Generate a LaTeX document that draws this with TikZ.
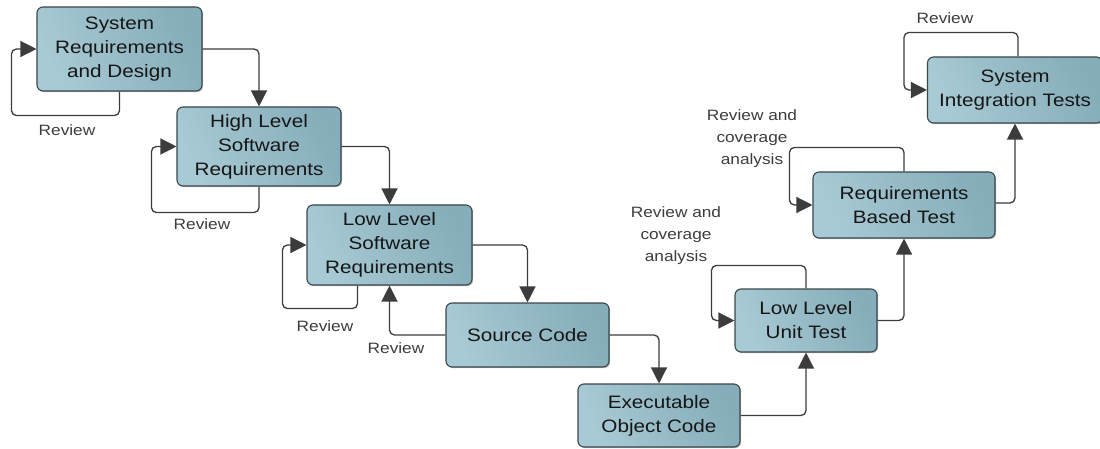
\documentclass[tikz,border=0pt]{standalone}
\usepackage{fontspec}
\setmainfont{Liberation Sans}[FakeStretch=1.15]
\usetikzlibrary{arrows.meta,calc,shadows}
\definecolor{boxlight}{HTML}{A8CAD4}
\definecolor{boxdark}{HTML}{85ADBA}
\definecolor{boxline}{HTML}{3A474B}
\definecolor{linecol}{HTML}{3C3C3C}
\definecolor{txt}{HTML}{161616}
\tikzset{
  stagebox/.style={draw=boxline, line width=1.1pt, rounded corners=6pt,
    left color=boxlight, right color=boxdark, shading angle=115,
    drop shadow={shadow xshift=1.2pt, shadow yshift=-1.2pt, opacity=0.25, fill=black},
    align=center, text=txt, inner sep=0pt,
    font=\fontsize{18}{24}\selectfont},
  conn/.style={draw=linecol, line width=1.3pt, rounded corners=5pt,
    -{Triangle[length=16pt,width=16pt]}},
  lbl/.style={align=center, text=linecol, inner sep=0pt,
    font=\fontsize{15}{22}\selectfont}
}
\begin{document}
\begin{tikzpicture}[x=1pt,y=-1pt]
\useasboundingbox (0,0) rectangle (1100,449);
% boxes
\node[stagebox, minimum width=165pt, minimum height=84pt] (srd) at (119.5,49) {System\\Requirements\\and Design};
\node[stagebox, minimum width=164pt, minimum height=79pt] (hlsr) at (259,146.5) {High Level\\Software\\Requirements};
\node[stagebox, minimum width=165pt, minimum height=80pt] (llsr) at (389.5,245) {Low Level\\Software\\Requirements};
\node[stagebox, minimum width=163pt, minimum height=64pt] (sc) at (527.5,335) {Source Code};
\node[stagebox, minimum width=162pt, minimum height=63pt] (eoc) at (659,415.5) {Executable\\Object Code};
\node[stagebox, minimum width=142pt, minimum height=63pt] (llut) at (806,320.5) {Low Level\\Unit Test};
\node[stagebox, minimum width=182pt, minimum height=66pt] (rbt) at (904,205) {Requirements\\Based Test};
\node[stagebox, minimum width=175pt, minimum height=66pt] (sit) at (1015,90) {System\\Integration Tests};
% forward flow
\draw[conn] (srd.east) -| (hlsr.north);
\draw[conn] (hlsr.east) -| (llsr.north);
\draw[conn] (llsr.east) -| (sc.north);
\draw[conn] (sc.east) -| (eoc.north);
\draw[conn] (sc.west) -| (llsr.south);
\draw[conn] (eoc.east) -| (llut.south);
\draw[conn] (llut.east) -| (rbt.south);
\draw[conn] ($(rbt.east)+(0,-2)$) -| (sit.south);
% review loops
\draw[conn] (srd.south) -- ++(0,24) -| ($(srd.west)+(-25,0)$) -- (srd.west);
\draw[conn] (hlsr.south) -- ++(0,26) -| ($(hlsr.west)+(-25,0)$) -- (hlsr.west);
\draw[conn] ($(llsr.south)+(-32,0)$) -- ++(0,23) -| ($(llsr.west)+(-24,0)$) -- (llsr.west);
\draw[conn] (llut.north) -- ++(0,-23) -| ($(llut.west)+(-23,0)$) -- (llut.west);
\draw[conn] (rbt.north) -- ++(0,-24) -| ($(rbt.west)+(-23,0)$) -- (rbt.west);
\draw[conn] ($(sit.north)+(3,0)$) -- ++(0,-24) -| ($(sit.west)+(-23,0)$) -- (sit.west);
% labels
\node[lbl] (l1) at (67,130) {Review};
\node[lbl] (l2) at (202,224) {Review};
\node[lbl] (l3) at (325,326) {Review};
\node[lbl] (l4) at (396,348) {Review};
\node[lbl] (l5) at (676,236) {Review and\\coverage\\analysis};
\node[lbl] (l6) at (752,139) {Review and\\coverage\\analysis};
\node[lbl] (l7) at (945,18) {Review};
\end{tikzpicture}
\end{document}
